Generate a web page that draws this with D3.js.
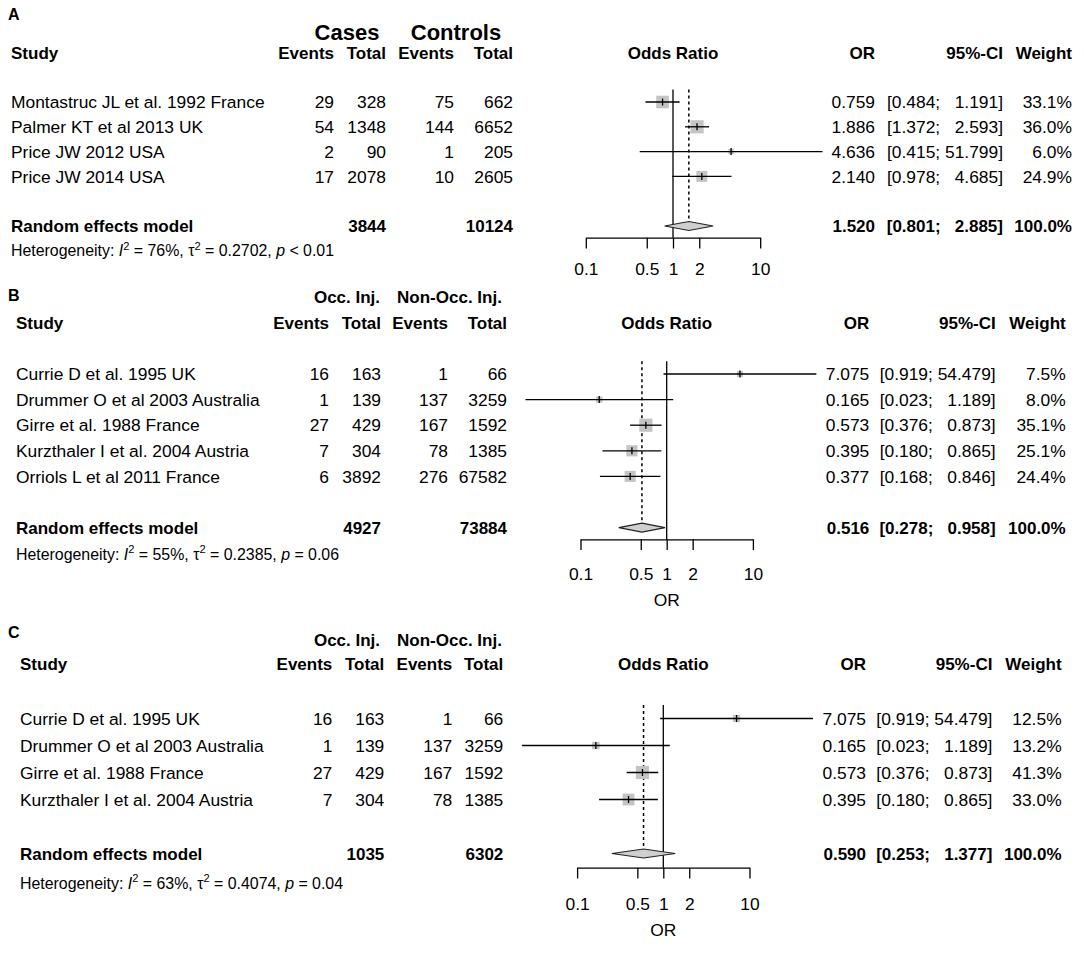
<!DOCTYPE html>
<html>
<head>
<meta charset="utf-8">
<script src="https://cdn.jsdelivr.net/npm/d3@7"></script>
<style>
    body { margin: 0; background: #fff; }
    text { font-family: "Liberation Sans", Arial, sans-serif; fill: #000; white-space: pre; }
</style>
</head>
<body>
<div id="chart"></div>
<script>
// ---- Panel A data
const studiesA = ["Montastruc JL et al. 1992 France", "Palmer KT et al 2013 UK", "Price JW 2012 USA", "Price JW 2014 USA"];
const eventsExpA = [29, 54, 2, 17];
const totalExpA = [328, 1348, 90, 2078];
const eventsCtrlA = [75, 144, 1, 10];
const totalCtrlA = [662, 6652, 205, 2605];
const orA = [0.759, 1.886, 4.636, 2.140];
const lowerA = [0.484, 1.372, 0.415, 0.978];
const upperA = [1.191, 2.593, 51.799, 4.685];
const weightA = [33.1, 36.0, 6.0, 24.9];
const pooledA = [1.520, 0.801, 2.885];
const pooledTotalsA = [3844, 10124];
const hetA = ["76%", "0.2702", "< 0.01"];

// ---- Panel B data
const studiesB = ["Currie D et al. 1995 UK", "Drummer O et al 2003 Australia", "Girre et al. 1988 France", "Kurzthaler I et al. 2004 Austria", "Orriols L et al 2011 France"];
const eventsExpB = [16, 1, 27, 7, 6];
const totalExpB = [163, 139, 429, 304, 3892];
const eventsCtrlB = [1, 137, 167, 78, 276];
const totalCtrlB = [66, 3259, 1592, 1385, 67582];
const orB = [7.075, 0.165, 0.573, 0.395, 0.377];
const lowerB = [0.919, 0.023, 0.376, 0.180, 0.168];
const upperB = [54.479, 1.189, 0.873, 0.865, 0.846];
const weightB = [7.5, 8.0, 35.1, 25.1, 24.4];
const pooledB = [0.516, 0.278, 0.958];
const pooledTotalsB = [4927, 73884];
const hetB = ["55%", "0.2385", "= 0.06"];

// ---- Panel C data
const studiesC = ["Currie D et al. 1995 UK", "Drummer O et al 2003 Australia", "Girre et al. 1988 France", "Kurzthaler I et al. 2004 Austria"];
const eventsExpC = [16, 1, 27, 7];
const totalExpC = [163, 139, 429, 304];
const eventsCtrlC = [1, 137, 167, 78];
const totalCtrlC = [66, 3259, 1592, 1385];
const orC = [7.075, 0.165, 0.573, 0.395];
const lowerC = [0.919, 0.023, 0.376, 0.180];
const upperC = [54.479, 1.189, 0.873, 0.865];
const weightC = [12.5, 13.2, 41.3, 33.0];
const pooledC = [0.590, 0.253, 1.377];
const pooledTotalsC = [1035, 6302];
const hetC = ["63%", "0.4074", "= 0.04"];

const groupsA = ["Cases", "Controls"];
const groupsBC = ["Occ. Inj.", "Non-Occ. Inj."];
const columnHeads = ["Events", "Total", "Events", "Total"];
const axisTicks = [0.1, 0.5, 1, 2, 10];

const panels = [
    {
        letter: "A", groups: groupsA, groupSize: 22,
        studies: studiesA, cols: [eventsExpA, totalExpA, eventsCtrlA, totalCtrlA],
        or: orA, lo: lowerA, hi: upperA, w: weightA, pooled: pooledA, totals: pooledTotalsA, het: hetA,
        lay: { letterY: 14, groupY: 31.7, groupX: [347, 456], headY: 53.3, studyX: 11,
               colX: [334, 386, 454, 513], orX: 875, ciX: 1003, wX: 1072,
               row0: 102, step: 24.8, hetY: 250.8, x1: 673, decade: 87.2,
               axisY: 237.7, tickLabY: 269, xLabY: null }
    },
    {
        letter: "B", groups: groupsBC, groupSize: 17,
        studies: studiesB, cols: [eventsExpB, totalExpB, eventsCtrlB, totalCtrlB],
        or: orB, lo: lowerB, hi: upperB, w: weightB, pooled: pooledB, totals: pooledTotalsB, het: hetB,
        lay: { letterY: 295, groupY: 296.7, groupX: [347, 449.5], headY: 322.7, studyX: 16,
               colX: [329, 381, 448, 507], orX: 869.3, ciX: 995.7, wX: 1065.7,
               row0: 374, step: 25.6, hetY: 554.3, x1: 666.7, decade: 86.2,
               axisY: 539.3, tickLabY: 574, xLabY: 599.3 }
    },
    {
        letter: "C", groups: groupsBC, groupSize: 17,
        studies: studiesC, cols: [eventsExpC, totalExpC, eventsCtrlC, totalCtrlC],
        or: orC, lo: lowerC, hi: upperC, w: weightC, pooled: pooledC, totals: pooledTotalsC, het: hetC,
        lay: { letterY: 632, groupY: 640, groupX: [347, 449.5], headY: 664.3, studyX: 20,
               colX: [332.3, 384.3, 452.3, 503.3], orX: 866, ciX: 992.4, wX: 1061.6,
               row0: 718.5, step: 27.0, hetY: 883.3, x1: 663.3, decade: 86.2,
               axisY: 867.7, tickLabY: 903.3, xLabY: 930 }
    }
];

const BODY = 17.4, HEAD = 17, HET = 15.9;
const LW = 1.3;
const f3 = d3.format(".3f");
const f1 = d3.format(".1f");

const svg = d3.select("#chart").append("svg")
    .attr("width", 1084).attr("height", 962)
    .attr("viewBox", "0 0 1084 962");
svg.append("rect").attr("width", 1084).attr("height", 962).attr("fill", "#fff");

// text placed by its vertical centre (cap-height middle)
function label(g, x, y, s, size, anchor, bold) {
    return g.append("text")
        .attr("x", x)
        .attr("y", y + 0.358 * size)
        .attr("text-anchor", anchor || "start")
        .attr("font-size", size)
        .attr("font-weight", bold ? "bold" : "normal")
        .text(s);
}

function ciText(lo, hi) {
    let h = f3(hi);
    if (hi < 10) h = "  " + h;
    return "[" + f3(lo) + "; " + h + "]";
}

function drawPanel(p) {
    const L = p.lay;
    const g = svg.append("g");
    const n = p.studies.length;
    const rowY = i => L.row0 + i * L.step;
    const sumY = rowY(n + 1);
    const top = L.row0 - L.step / 2;

    const x = d3.scaleLog().domain([0.1, 10]).range([L.x1 - L.decade, L.x1 + L.decade]);
    const maxW = d3.max(p.w);
    const sq = d3.scaleSqrt().domain([0, maxW]).range([0, 13.2]);

    // letter + headers
    label(g, 8, L.letterY, p.letter, 16, "start", true);
    p.groups.forEach((s, i) => label(g, L.groupX[i], L.groupY, s, p.groupSize, "middle", true));
    label(g, L.studyX, L.headY, "Study", HEAD, "start", true);
    columnHeads.forEach((s, i) => label(g, L.colX[i], L.headY, s, HEAD, "end", true));
    label(g, L.x1, L.headY, "Odds Ratio", HEAD, "middle", true);
    label(g, L.orX, L.headY, "OR", HEAD, "end", true);
    label(g, L.ciX, L.headY, "95%-CI", HEAD, "end", true);
    label(g, L.wX, L.headY, "Weight", HEAD, "end", true);

    // study rows
    p.studies.forEach((s, i) => {
        const y = rowY(i);
        label(g, L.studyX, y, s, BODY);
        p.cols.forEach((c, j) => label(g, L.colX[j], y, String(c[i]), BODY, "end"));
        label(g, L.orX, y, f3(p.or[i]), BODY, "end");
        label(g, L.ciX, y, ciText(p.lo[i], p.hi[i]), BODY, "end");
        label(g, L.wX, y, f1(p.w[i]) + "%", BODY, "end");
    });

    // summary row
    label(g, L.studyX, sumY, "Random effects model", HEAD, "start", true);
    label(g, L.colX[1], sumY, String(p.totals[0]), HEAD, "end", true);
    label(g, L.colX[3], sumY, String(p.totals[1]), HEAD, "end", true);
    label(g, L.orX, sumY, f3(p.pooled[0]), HEAD, "end", true);
    label(g, L.ciX, sumY, ciText(p.pooled[1], p.pooled[2]), HEAD, "end", true);
    label(g, L.wX, sumY, "100.0%", HEAD, "end", true);

    // heterogeneity line
    const het = g.append("text")
        .attr("x", L.studyX)
        .attr("y", L.hetY + 0.358 * HET)
        .attr("font-size", HET);
    het.append("tspan").text("Heterogeneity: ");
    het.append("tspan").attr("font-style", "italic").text("I");
    het.append("tspan").attr("font-size", HET * 0.7).attr("dy", -6.5).text("2");
    het.append("tspan").attr("dy", 6.5).text(" = " + p.het[0] + ", \u03c4");
    het.append("tspan").attr("font-size", HET * 0.7).attr("dy", -6.5).text("2");
    het.append("tspan").attr("dy", 6.5).text(" = " + p.het[1] + ", ");
    het.append("tspan").attr("font-style", "italic").text("p");
    het.append("tspan").text(" " + p.het[2]);

    // reference line at OR = 1 and pooled estimate
    g.append("line")
        .attr("x1", x(1)).attr("x2", x(1))
        .attr("y1", top).attr("y2", L.axisY)
        .attr("stroke", "#000").attr("stroke-width", LW);
    g.append("line")
        .attr("x1", x(p.pooled[0])).attr("x2", x(p.pooled[0]))
        .attr("y1", top).attr("y2", sumY - 4.5)
        .attr("stroke", "#000").attr("stroke-width", 1.5)
        .attr("stroke-dasharray", "3,3");

    // squares, CI lines, estimate ticks
    const rows = g.append("g").selectAll("g")
        .data(p.or.map((d, i) => ({ or: d, lo: p.lo[i], hi: p.hi[i], w: p.w[i], y: rowY(i) })))
        .enter().append("g");
    rows.append("rect")
        .attr("x", d => x(d.or) - sq(d.w) / 2)
        .attr("y", d => d.y - sq(d.w) / 2)
        .attr("width", d => sq(d.w))
        .attr("height", d => sq(d.w))
        .attr("fill", "#c4c4c4");
    rows.append("line")
        .attr("x1", d => x(d.lo)).attr("x2", d => x(d.hi))
        .attr("y1", d => d.y).attr("y2", d => d.y)
        .attr("stroke", "#000").attr("stroke-width", LW);
    rows.append("line")
        .attr("x1", d => x(d.or)).attr("x2", d => x(d.or))
        .attr("y1", d => d.y - 3.5).attr("y2", d => d.y + 3.5)
        .attr("stroke", "#000").attr("stroke-width", LW);

    // pooled diamond
    const pd = p.pooled;
    g.append("path")
        .attr("d", `M${x(pd[1])},${sumY}L${x(pd[0])},${sumY - 4.5}L${x(pd[2])},${sumY}L${x(pd[0])},${sumY + 4.5}Z`)
        .attr("fill", "#cfcfcf")
        .attr("stroke", "#222").attr("stroke-width", 1.1);

    // axis
    const tickLen = 10.8;
    const ax = g.append("g")
        .attr("transform", `translate(0,${L.axisY})`)
        .call(d3.axisBottom(x)
            .tickValues(axisTicks)
            .tickFormat(d => String(d))
            .tickSize(tickLen)
            .tickSizeOuter(0)
            .tickPadding(0));
    ax.select(".domain").attr("stroke", "#000").attr("stroke-width", LW);
    ax.selectAll(".tick line").attr("stroke", "#000").attr("stroke-width", LW);
    ax.selectAll(".tick text")
        .attr("font-family", null)
        .attr("font-size", BODY)
        .attr("fill", "#000")
        .attr("dy", null)
        .attr("y", L.tickLabY - L.axisY + 0.358 * BODY);
    ax.attr("font-family", null).attr("font-size", null);

    if (L.xLabY) label(g, L.x1, L.xLabY, "OR", BODY, "middle");
}

panels.forEach(drawPanel);
</script>
</body>
</html>
